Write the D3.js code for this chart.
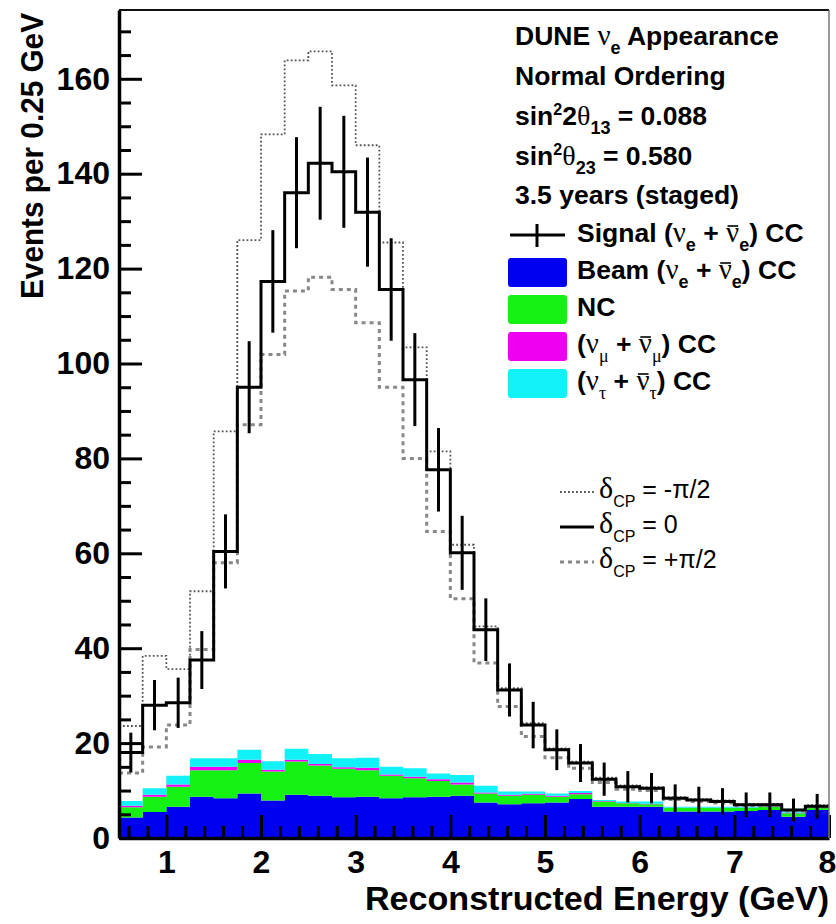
<!DOCTYPE html>
<html><head><meta charset="utf-8">
<script src="https://cdn.jsdelivr.net/npm/d3@7"></script>
<style>body{margin:0;background:#fff} svg{display:block}</style>
</head><body>
<svg id="c" width="836" height="924"></svg>
<script>
// ---------- data ----------
const binLow  = [0.5,0.75,1,1.25,1.5,1.75,2,2.25,2.5,2.75,3,3.25,3.5,3.75,4,4.25,4.5,4.75,5,5.25,5.5,5.75,6,6.25,6.5,6.75,7,7.25,7.5,7.75];
const binHigh = [0.75,1,1.25,1.5,1.75,2,2.25,2.5,2.75,3,3.25,3.5,3.75,4,4.25,4.5,4.75,5,5.25,5.5,5.75,6,6.25,6.5,6.75,7,7.25,7.5,7.75,8];
// total events, delta_CP = 0 (signal + background)
const dcpZero  = [18,28,28.5,37.5,60.4,95,117.3,136,142.2,140.4,131.9,115.6,96.6,77.6,60.1,43.9,31.2,23.8,18.6,15.8,12.4,10.8,10.5,8.4,8.0,7.7,7.0,7.0,5.9,6.7];
const dcpZeroErr = [4.2,5.3,5.3,6.1,7.8,9.7,10.8,11.7,11.9,11.8,11.5,10.8,9.8,8.8,7.8,6.6,5.6,4.9,4.3,4.0,3.5,3.3,3.2,2.9,2.8,2.8,2.6,2.6,2.4,2.6];
// delta_CP = -pi/2
const dcpMinus = [23.6,38.4,35.6,52,85.7,126,148.3,163.9,165.8,158.6,146,125.5,103.4,81.5,61.8,44.6,31.6,24.2,18.9,16.1,12.7,11.1,10.7,8.6,8.2,7.9,7.2,7.2,6.0,6.9];
// delta_CP = +pi/2
const dcpPlus  = [13.7,19.2,23.8,39.7,58,87.1,101.9,115.3,118.2,115.6,108.6,95,80,64.6,50.4,36.9,27.7,21.4,16.9,14.7,11.7,10.3,10.0,8.1,7.7,7.4,6.8,6.8,5.7,6.5];
// stacked backgrounds
const beamNue  = [4.3,5.5,6.6,8.7,8.4,9.4,7.9,9.1,8.9,8.6,8.7,8.4,8.6,8.7,8.9,7.5,7.1,7.3,7.5,8.2,6.6,6.6,6.6,5.6,5.6,5.6,5.7,5.9,4.5,5.9];
const ncBkg    = [2.2,3.2,4.2,5.6,5.9,6.4,6.1,7.0,6.4,6.0,5.6,4.7,4.0,3.3,2.4,1.9,1.8,1.8,1.2,1.0,1.1,0.7,0.5,0.7,0.7,0.7,0.6,0.7,0.7,0.5];
const numuCC   = [0.3,0.4,0.5,0.7,0.7,0.7,0.4,0.4,0.3,0.3,0.5,0.3,0.3,0.4,0.4,0.2,0.2,0.2,0.2,0.3,0.1,0.1,0.1,0.1,0.1,0.1,0.1,0.1,0.1,0.1];
const nutauCC  = [1.0,1.4,1.8,1.8,1.8,2.1,1.8,2.3,2.1,1.9,2.1,1.6,1.8,1.2,1.6,1.4,0.7,0.5,0.5,0.4,0.2,0.3,0.5,0.2,0.2,0.2,0.2,0.3,0.3,0.1];
const xTickLabels = [1,2,3,4,5,6,7,8];
const xMinorTicks = [0.6,0.8,1.2,1.4,1.6,1.8,2.2,2.4,2.6,2.8,3.2,3.4,3.6,3.8,4.2,4.4,4.6,4.8,5.2,5.4,5.6,5.8,6.2,6.4,6.6,6.8,7.2,7.4,7.6,7.8];
const yTickLabels = [0,20,40,60,80,100,120,140,160];
const yMinorTicks = [5,10,15,25,30,35,45,50,55,65,70,75,85,90,95,105,110,115,125,130,135,145,150,155,165,170];
const xDomain = [0.5, 8];
const yDomain = [0, 174.5];

// ---------- setup ----------
const FONT = "'Liberation Sans', Arial, Helvetica, sans-serif";
const SERIF = "'Liberation Serif', 'DejaVu Serif', serif";
const svg = d3.select("#c");
const L = 119, R = 829, T = 10, B = 838;
const x = d3.scaleLinear().domain(xDomain).range([L, R]);
const y = d3.scaleLinear().domain(yDomain).range([B, T]);

// stacked backgrounds
const rows = binLow.map((lo, i) => ({lo, hi: binHigh[i], beam: beamNue[i], nc: ncBkg[i], numu: numuCC[i], nutau: nutauCC[i]}));
const keys = ["beam", "nc", "numu", "nutau"];
const colors = {beam: "#0000f0", nc: "#14f214", numu: "#f000f0", nutau: "#10f2f8"};
const stacked = d3.stack().keys(keys)(rows);
const area = d3.area().x(p => x(p.x)).y0(p => y(p.y0)).y1(p => y(p.y1));
svg.append("g").selectAll("path").data(stacked).join("path")
  .attr("fill", s => colors[s.key])
  .attr("d", s => area(s.flatMap(d => [{x: d.data.lo, y0: d[0], y1: d[1]}, {x: d.data.hi, y0: d[0], y1: d[1]}])));

// step lines
const line = d3.line().x(d => x(d[0])).y(d => y(d[1]));
const steps = vals => vals.flatMap((v, i) => [[binLow[i], v], [binHigh[i], v]]);
svg.append("path").attr("d", line(steps(dcpMinus))).attr("fill", "none")
  .attr("stroke", "#555").attr("stroke-width", 1.8).attr("stroke-dasharray", "1.8,2.2");
svg.append("path").attr("d", line(steps(dcpPlus))).attr("fill", "none")
  .attr("stroke", "#888").attr("stroke-width", 3).attr("stroke-dasharray", "4,4");
svg.append("path").attr("d", line(steps(dcpZero))).attr("fill", "none")
  .attr("stroke", "#000").attr("stroke-width", 3);
svg.append("g").selectAll("line").data(dcpZero).join("line")
  .attr("x1", (v, i) => x((binLow[i] + binHigh[i]) / 2)).attr("x2", (v, i) => x((binLow[i] + binHigh[i]) / 2))
  .attr("y1", (v, i) => y(v - dcpZeroErr[i])).attr("y2", (v, i) => y(v + dcpZeroErr[i]))
  .attr("stroke", "#000").attr("stroke-width", 3);

// ---------- axes ----------
function styleAxis(g, size) {
  g.selectAll("text").attr("font-family", FONT).attr("font-weight", "bold").attr("font-size", size).attr("fill", "#000");
  g.selectAll("line").attr("stroke", "#000").attr("stroke-width", 3);
}
const xa = svg.append("g").attr("transform", `translate(0,${B})`)
  .call(d3.axisBottom(x).tickValues(xTickLabels).tickSize(-23).tickSizeOuter(0).tickPadding(12).tickFormat(d3.format("d")));
styleAxis(xa, 32);
xa.selectAll(".tick text").filter(d => d === xDomain[1]).attr("dx", -2);
xa.select(".domain").attr("stroke", "#000").attr("stroke-width", 3.5);
const xm = svg.append("g").attr("transform", `translate(0,${B})`)
  .call(d3.axisBottom(x).tickValues(xMinorTicks).tickSize(-12).tickSizeOuter(0).tickFormat(""));
xm.select(".domain").remove(); styleAxis(xm, 32);

const ya = svg.append("g").attr("transform", `translate(${L},0)`)
  .call(d3.axisLeft(y).tickValues(yTickLabels).tickSize(-23).tickSizeOuter(0).tickPadding(9).tickFormat(d3.format("d")));
styleAxis(ya, 32);
ya.select(".domain").attr("stroke", "#000").attr("stroke-width", 3.5);
const ym = svg.append("g").attr("transform", `translate(${L},0)`)
  .call(d3.axisLeft(y).tickValues(yMinorTicks).tickSize(-12).tickSizeOuter(0).tickFormat(""));
ym.select(".domain").remove(); styleAxis(ym, 32);

// frame top/right
svg.append("line").attr("x1", L).attr("x2", R).attr("y1", T).attr("y2", T).attr("stroke", "#111").attr("stroke-width", 2);
svg.append("line").attr("x1", R).attr("x2", R).attr("y1", T).attr("y2", B).attr("stroke", "#777").attr("stroke-width", 1.5);

// axis titles
svg.append("text").attr("x", R).attr("y", 910).attr("text-anchor", "end")
  .attr("font-family", FONT).attr("font-weight", "bold").attr("font-size", 33)
  .attr("textLength", 464).attr("lengthAdjust", "spacingAndGlyphs").text("Reconstructed Energy (GeV)");
svg.append("text").attr("transform", `translate(43,13) rotate(-90)`).attr("text-anchor", "end")
  .attr("font-family", FONT).attr("font-weight", "bold").attr("font-size", 31)
  .attr("textLength", 286).attr("lengthAdjust", "spacingAndGlyphs").text("Events per 0.25 GeV");

// ---------- rich text helper ----------
function rich(px, py, parts, size, weight) {
  const t = svg.append("text").attr("x", px).attr("y", py)
    .attr("font-family", FONT).attr("font-weight", weight || "bold").attr("font-size", size).attr("fill", "#000");
  let cur = 0;
  const bars = [];
  parts.forEach(p => {
    if (typeof p === "string") p = {t: p};
    const sh = p.shift || 0;
    const ts = t.append("tspan").attr("dy", sh - cur).text(p.t);
    cur = sh;
    if (p.size) ts.attr("font-size", p.size);
    if (p.serif) ts.attr("font-family", SERIF).attr("font-weight", "normal");
    if (p.bar) bars.push(ts);
  });
  bars.forEach(ts => {
    const n = ts.node();
    const s = n.getStartPositionOfChar(0), e = n.getEndPositionOfChar(0);
    svg.append("line").attr("x1", s.x + 1.5).attr("x2", e.x - 1).attr("y1", s.y - 16).attr("y2", s.y - 16)
      .attr("stroke", "#000").attr("stroke-width", 1.6);
  });
  return t;
}
const NU = 29;
const nu = {t: "ν", serif: true, size: NU};
const nubar = {t: "ν", serif: true, size: NU, bar: true};
const sub = (s, g) => ({t: s, size: 18, shift: 9, serif: !!g});
const sup = s => ({t: s, size: 16, shift: -10});
const th = {t: "θ", serif: true, size: 28};

// header text
const TX = 515;
rich(TX, 45, ["DUNE ", nu, sub("e"), " Appearance"], 26.5);
rich(TX, 85, ["Normal Ordering"], 26.5);
rich(TX, 125, ["sin", sup("2"), "2", th, sub("13"), " = 0.088"], 26.5);
rich(TX, 165, ["sin", sup("2"), th, sub("23"), " = 0.580"], 26.5);
rich(TX, 204, ["3.5 years (staged)"], 26.5);

// legend
const LX = 577;
const legBase = [242, 279, 316, 353, 390];
svg.append("line").attr("x1", 510).attr("x2", 565).attr("y1", legBase[0] - 7).attr("y2", legBase[0] - 7).attr("stroke", "#000").attr("stroke-width", 3);
svg.append("line").attr("x1", 537).attr("x2", 537).attr("y1", legBase[0] - 18).attr("y2", legBase[0] + 5).attr("stroke", "#000").attr("stroke-width", 3);
rich(LX, legBase[0], ["Signal (", nu, sub("e"), " + ", nubar, sub("e"), ") CC"], 26.5);
const legKeys = ["beam", "nc", "numu", "nutau"];
legKeys.forEach((k, i) => {
  svg.append("rect").attr("x", 508).attr("y", legBase[i + 1] - 21).attr("width", 59).attr("height", 29)
    .attr("rx", 3).attr("fill", colors[k]);
});
rich(LX, legBase[1], ["Beam (", nu, sub("e"), " + ", nubar, sub("e"), ") CC"], 26.5);
rich(LX, legBase[2], ["NC"], 26.5);
rich(LX, legBase[3], ["(", nu, sub("μ", true), " + ", nubar, sub("μ", true), ") CC"], 26.5);
rich(LX, legBase[4], ["(", nu, sub("τ", true), " + ", nubar, sub("τ", true), ") CC"], 26.5);

// delta CP legend
const dBase = [498, 533, 568];
const dStyles = [
  {stroke: "#555", w: 1.8, dash: "1.8,2.2"},
  {stroke: "#000", w: 3, dash: null},
  {stroke: "#888", w: 3, dash: "4,4"}
];
const dLabels = ["-π/2", "0", "+π/2"];
dBase.forEach((b, i) => {
  const l = svg.append("line").attr("x1", 560).attr("x2", 594).attr("y1", b - 6).attr("y2", b - 6)
    .attr("stroke", dStyles[i].stroke).attr("stroke-width", dStyles[i].w);
  if (dStyles[i].dash) l.attr("stroke-dasharray", dStyles[i].dash);
  rich(599, b, [{t: "δ", serif: true, size: 30}, {t: "CP", size: 16, shift: 9}, " = " + dLabels[i]], 25, "normal");
});
</script>
</body></html>
